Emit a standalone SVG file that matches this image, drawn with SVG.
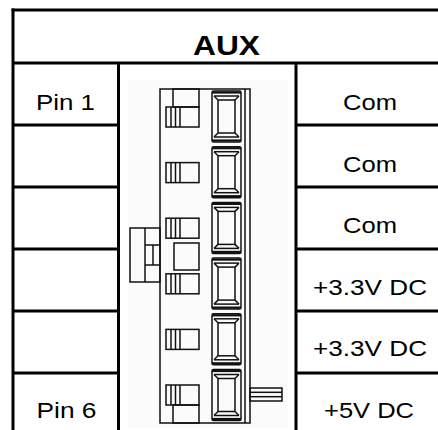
<svg xmlns="http://www.w3.org/2000/svg" width="438" height="430" viewBox="0 0 438 430">
<style>
.tl{stroke:#000;stroke-width:3;fill:none}
.c{stroke:#111;stroke-width:1.5;fill:none}
.t{font-family:"Liberation Sans",Arial,sans-serif;font-size:21.5px;fill:#000;text-anchor:middle}
.h{font-family:"Liberation Sans",Arial,sans-serif;font-size:27px;font-weight:bold;fill:#000;text-anchor:middle}
</style>
<defs>
<g id="term">
<rect class="c" x="212" y="0" width="29" height="51" rx="1.5"/>
<line x1="212" y1="1.5" x2="241" y2="1.5" stroke="#111" stroke-width="2.2"/>
<line x1="212" y1="49.5" x2="241" y2="49.5" stroke="#111" stroke-width="2.2"/>
<line class="c" x1="214" y1="5" x2="239" y2="5"/>
<line class="c" x1="214" y1="46" x2="239" y2="46"/>
<rect class="c" x="218" y="9" width="17" height="33"/>
<line class="c" x1="214" y1="5" x2="218" y2="9"/>
<line class="c" x1="239" y1="5" x2="235" y2="9"/>
<line class="c" x1="214" y1="46" x2="218" y2="42"/>
<line class="c" x1="239" y1="46" x2="235" y2="42"/>
</g>
<g id="latch">
<rect class="c" x="166" y="0" width="33" height="20"/>
<line class="c" x1="171" y1="0" x2="171" y2="20"/>
<line class="c" x1="175.5" y1="0" x2="175.5" y2="20"/>
<line class="c" x1="180" y1="0" x2="180" y2="20"/>
</g>
</defs>
<rect x="0" y="0" width="438" height="430" fill="#fff"/>
<g id="table">
<line class="tl" x1="11.5" y1="10" x2="438" y2="10"/>
<line class="tl" x1="13" y1="8.5" x2="13" y2="430"/>
<line class="tl" x1="13" y1="63" x2="438" y2="63"/>
<line class="tl" x1="118.5" y1="63" x2="118.5" y2="430"/>
<line class="tl" x1="296" y1="63" x2="296" y2="430"/>
<line class="tl" x1="13" y1="125" x2="118.5" y2="125"/>
<line class="tl" x1="13" y1="187" x2="118.5" y2="187"/>
<line class="tl" x1="13" y1="249" x2="118.5" y2="249"/>
<line class="tl" x1="13" y1="311" x2="118.5" y2="311"/>
<line class="tl" x1="13" y1="373" x2="118.5" y2="373"/>
<line class="tl" x1="296" y1="125" x2="438" y2="125"/>
<line class="tl" x1="296" y1="187" x2="438" y2="187"/>
<line class="tl" x1="296" y1="249" x2="438" y2="249"/>
<line class="tl" x1="296" y1="311" x2="438" y2="311"/>
<line class="tl" x1="296" y1="373" x2="438" y2="373"/>
</g>
<g id="header"><text class="h" x="226.5" y="55" textLength="67" lengthAdjust="spacingAndGlyphs">AUX</text></g>
<g id="pins">
<text class="t" x="65.5" y="110" textLength="59" lengthAdjust="spacingAndGlyphs">Pin 1</text>
<text class="t" x="66.5" y="418" textLength="60" lengthAdjust="spacingAndGlyphs">Pin 6</text>
</g>
<g id="signals">
<text class="t" x="370" y="110" textLength="54" lengthAdjust="spacingAndGlyphs">Com</text>
<text class="t" x="370" y="172" textLength="54" lengthAdjust="spacingAndGlyphs">Com</text>
<text class="t" x="370" y="233" textLength="54" lengthAdjust="spacingAndGlyphs">Com</text>
<text class="t" x="370" y="295" textLength="114" lengthAdjust="spacingAndGlyphs">+3.3V DC</text>
<text class="t" x="370" y="356" textLength="114" lengthAdjust="spacingAndGlyphs">+3.3V DC</text>
<text class="t" x="369" y="418" textLength="90" lengthAdjust="spacingAndGlyphs">+5V DC</text>
</g>
<g id="connector">
<rect x="128" y="80" width="160" height="348" fill="#fbfbfb"/>
<rect class="c" x="160" y="89" width="90" height="334" fill="#fff"/>
<line class="c" x1="245" y1="89" x2="245" y2="423"/>
<use href="#term" y="91"/>
<use href="#term" y="146.7"/>
<use href="#term" y="202.4"/>
<use href="#term" y="258.1"/>
<use href="#term" y="313.8"/>
<use href="#term" y="369.5"/>
<use href="#latch" y="107"/>
<use href="#latch" y="162.6"/>
<use href="#latch" y="218.2"/>
<use href="#latch" y="273.8"/>
<use href="#latch" y="329.4"/>
<use href="#latch" y="385"/>
<rect class="c" x="173" y="89" width="26" height="18"/>
<rect class="c" x="173" y="405" width="26" height="18"/>
<rect class="c" x="174" y="243" width="25" height="27"/>
<rect class="c" x="130" y="228" width="30" height="54" fill="#fff"/>
<line class="c" x1="145" y1="228" x2="145" y2="282"/>
<line class="c" x1="145" y1="245" x2="160" y2="245"/>
<line class="c" x1="145" y1="265" x2="160" y2="265"/>
<line class="c" x1="153" y1="245" x2="153" y2="265"/>
<rect class="c" x="250" y="388" width="32" height="13" fill="#fff"/>
<line class="c" x1="250" y1="392.3" x2="282" y2="392.3"/>
<line class="c" x1="250" y1="396.7" x2="282" y2="396.7"/>
</g>
</svg>
